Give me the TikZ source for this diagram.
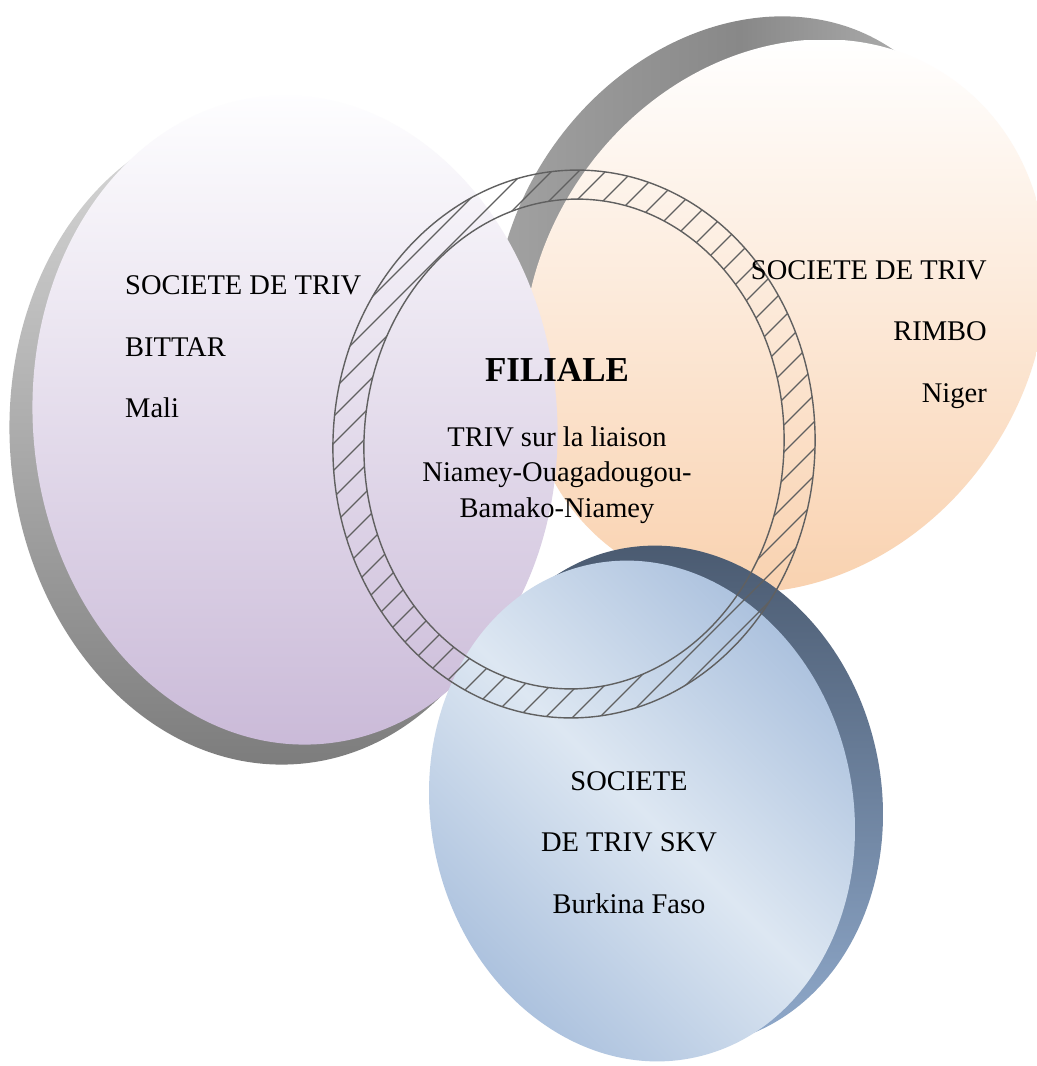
\documentclass[tikz,border=0pt]{standalone}
\usepackage{fontspec}
\setmainfont{Liberation Serif}
\definecolor{purpTop}{HTML}{FEFEFF}
\definecolor{purpBot}{HTML}{CABAD8}
\definecolor{orTop}{HTML}{FFFFFF}
\definecolor{orBot}{HTML}{F9D2B0}
\definecolor{blLight}{HTML}{DDE7F2}
\definecolor{blDark}{HTML}{AAC0DD}
\definecolor{blShTop}{HTML}{4A5A70}
\definecolor{blShBot}{HTML}{90AACC}
\definecolor{grLight}{HTML}{DADADA}
\definecolor{grDark}{HTML}{7C7C7C}
\definecolor{grMid}{HTML}{888888}
\definecolor{grPale}{HTML}{C4C4C4}
\definecolor{ringgray}{HTML}{606060}
\begin{document}
\begin{tikzpicture}[x=1bp,y=-1bp,
  lbl/.style={inner sep=0pt, font=\fontsize{28.5bp}{34bp}\selectfont},
  ttl/.style={inner sep=0pt, font=\fontsize{35bp}{40bp}\selectfont\bfseries},
  ringline/.style={draw=ringgray, line width=1.4bp},
  hatchline/.style={draw=ringgray, line width=1.2bp}]
\fill[white] (0,0) rectangle (1037,1066);
\useasboundingbox (0,0) rectangle (1037,1066);

% ---------- orange disc (Niger) ----------
\begin{scope}
  \clip[rotate around={55:(737,276)}] (737,276) ellipse [x radius=275bp, y radius=225bp];
  \shade[left color=grMid!75!white, right color=grPale, middle color=grMid] (460,0) rectangle (1020,550);
\end{scope}
\begin{scope}
  \clip[rotate around={55:(785,316)}] (785,316) ellipse [x radius=290bp, y radius=247bp];
  \shade[top color=orTop, bottom color=orBot] (480,40) rectangle (1080,590);
\end{scope}

% ---------- purple disc (Mali) ----------
\begin{scope}
  \clip[rotate around={5:(272,440)}] (272,440) ellipse [x radius=262bp, y radius=325bp];
  \shade[top color=grLight, bottom color=grDark] (0,110) rectangle (560,770);
\end{scope}
\begin{scope}
  \clip[rotate around={5:(295,420)}] (295,420) ellipse [x radius=262bp, y radius=325bp];
  \shade[top color=purpTop, bottom color=purpBot] (20,92) rectangle (580,748);
\end{scope}

% ---------- blue disc (Burkina Faso) ----------
\begin{scope}
  \clip[rotate around={12:(670,796)}] (670,796) ellipse [x radius=211bp, y radius=252bp];
  \shade[top color=blShTop, bottom color=blShBot] (450,540) rectangle (890,1050);
\end{scope}
\begin{scope}
  \clip[rotate around={12:(642,811)}] (642,811) ellipse [x radius=211bp, y radius=252bp];
  \shade[top color=blDark, bottom color=blDark, middle color=blLight, shading angle=-45] (425,555) rectangle (860,1066);
\end{scope}

% ---------- hatched ring (Filiale) ----------
\begin{scope}[even odd rule]
  \clip[rotate around={-3:(574,444)}]
    (574,444) ellipse [x radius=241bp, y radius=274bp]
    (574,444) ellipse [x radius=210bp, y radius=245bp];
  \foreach \c in {480,507,...,1590}
    \draw[hatchline] (\c,0) -- ({\c-1066},1066);
\end{scope}
\draw[ringline, rotate around={-3:(574,444)}] (574,444) ellipse [x radius=241bp, y radius=274bp];
\draw[ringline, rotate around={-3:(574,444)}] (574,444) ellipse [x radius=210bp, y radius=245bp];

% ---------- texts ----------
\node[lbl, anchor=base west] (mali1) at (125,294) {SOCIETE DE TRIV};
\node[lbl, anchor=base west] (mali2) at (125,356) {BITTAR};
\node[lbl, anchor=base west] (mali3) at (125,417) {Mali};

\node[lbl, anchor=base east] (niger1) at (987,279) {SOCIETE DE TRIV};
\node[lbl, anchor=base east] (niger2) at (987,340) {RIMBO};
\node[lbl, anchor=base east] (niger3) at (987,402) {Niger};

\node[ttl, anchor=base] (fil0) at (557,381) {FILIALE};
\node[lbl, anchor=base] (fil1) at (557,446) {TRIV sur la liaison};
\node[lbl, anchor=base] (fil2) at (557,481) {Niamey-Ouagadougou-};
\node[lbl, anchor=base] (fil3) at (557,517) {Bamako-Niamey};

\node[lbl, anchor=base] (bf1) at (629,790) {SOCIETE};
\node[lbl, anchor=base] (bf2) at (629,851) {DE TRIV SKV};
\node[lbl, anchor=base] (bf3) at (629,913) {Burkina Faso};
\end{tikzpicture}
\end{document}
